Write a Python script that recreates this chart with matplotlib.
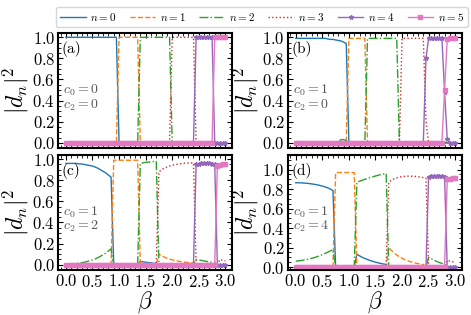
import matplotlib
matplotlib.use("Agg")
import matplotlib.pyplot as plt
import numpy as np
from matplotlib.ticker import AutoMinorLocator, MultipleLocator

plt.rcParams["font.family"] = "serif"
plt.rcParams["font.serif"] = ["cmr10", "DejaVu Serif"]
plt.rcParams["mathtext.fontset"] = "cm"
plt.rcParams["axes.formatter.use_mathtext"] = True

# beta sample grid (step 0.05)
BETA = np.round(np.arange(61) * 0.05, 2)

# ---- panel (a): c0 = 0, c2 = 0
A_N0 = [1.0] * 20 + [0.0] * 41
A_N1 = [0.0] * 20 + [1.0] * 8 + [0.0] * 33
A_N2 = [0.0] * 28 + [1.0] * 12 + [0.0] * 21
A_N3 = [0.0] * 40 + [1.0] * 9 + [0.0] * 12
A_N4 = [0.0] * 49 + [1.0] * 7 + [0.0] * 5
A_N5 = [0.0] * 56 + [1.0] * 5

# ---- panel (b): c0 = 1, c2 = 0
B_N0 = [0.99] * 11 + [0.99, 0.985, 0.98, 0.98, 0.975, 0.97, 0.965, 0.955, 0.94] + [0.0] * 41
B_N1 = [0.0] * 20 + [0.99] * 7 + [0.0] * 34
B_N2 = [0.0] * 16 + [0.01, 0.03, 0.03, 0.02] + [0.0] * 7 + [0.99] * 12 + [0.0] * 22
B_N3 = [0.0] * 40 + [0.99] * 9 + [0.2, 0.0] + [0.0] * 10
B_N4 = [0.0] * 49 + [0.8] + [0.99] * 6 + [0.48, 0.04] + [0.0] * 3
B_N5 = [0.0] * 56 + [0.5] + [0.98, 0.99, 0.99, 0.99]

# ---- panel (c): c0 = 1, c2 = 2
C_N0 = ([0.96] * 5
        + [0.955, 0.955, 0.95, 0.945, 0.94, 0.935, 0.925, 0.915, 0.9, 0.885, 0.87, 0.85, 0.83]
        + [0.0] * 10 + [0.03, 0.027, 0.024, 0.02, 0.017, 0.014, 0.012] + [0.0] * 26)
C_N1 = ([0.0] * 18 + [0.99] * 10 + [0.0] * 7
        + [0.1, 0.085, 0.072, 0.062, 0.053, 0.046, 0.04, 0.035, 0.03, 0.026, 0.023, 0.02, 0.018, 0.016]
        + [0.0] * 12)
C_N2 = ([0.005, 0.006, 0.008, 0.01, 0.012, 0.015, 0.019, 0.024, 0.03, 0.037, 0.045, 0.055,
         0.066, 0.08, 0.095, 0.11, 0.13, 0.15]
        + [0.0] * 10 + [0.96, 0.965, 0.97, 0.972, 0.975, 0.978, 0.98] + [0.0] * 14
        + [0.05, 0.045, 0.04, 0.035, 0.03, 0.027, 0.024, 0.02] + [0.0] * 4)
C_N3 = ([0.0] * 35
        + [0.88, 0.9, 0.915, 0.925, 0.935, 0.942, 0.948, 0.953, 0.957, 0.96, 0.962, 0.964, 0.965, 0.965]
        + [0.0] * 9 + [0.05, 0.04, 0.035])
C_N4 = [0.0] * 49 + [0.95, 0.955, 0.96, 0.965, 0.965, 0.96, 0.955, 0.95] + [0.0] * 4
C_N5 = [0.0] * 57 + [0.94, 0.945, 0.95, 0.95]

# ---- panel (d): c0 = 1, c2 = 4
D_N0 = ([0.865, 0.865, 0.864, 0.862, 0.86, 0.857, 0.853, 0.849, 0.844, 0.838, 0.831, 0.823,
         0.813, 0.8, 0.785]
        + [0.0] * 8
        + [0.13, 0.115, 0.1, 0.088, 0.077, 0.067, 0.058, 0.05, 0.043, 0.037, 0.031, 0.026]
        + [0.0] * 26)
D_N1 = ([0.0] * 15 + [0.965, 0.97, 0.97, 0.97, 0.97, 0.97, 0.97, 0.97] + [0.0] * 12
        + [0.2, 0.17, 0.145, 0.123, 0.105, 0.09, 0.077, 0.066, 0.056, 0.048, 0.041, 0.035, 0.03, 0.026]
        + [0.0] * 12)
D_N2 = ([0.06, 0.063, 0.067, 0.071, 0.076, 0.082, 0.089, 0.097, 0.106, 0.116, 0.127, 0.139,
         0.152, 0.166, 0.18]
        + [0.0] * 8
        + [0.87, 0.88, 0.89, 0.9, 0.91, 0.918, 0.926, 0.934, 0.942, 0.948, 0.954, 0.96]
        + [0.0] * 15 + [0.1, 0.085, 0.07, 0.058, 0.047, 0.037, 0.028] + [0.0] * 4)
D_N3 = ([0.0] * 35
        + [0.87, 0.89, 0.905, 0.915, 0.923, 0.928, 0.931, 0.933, 0.933, 0.932, 0.93, 0.927,
           0.923, 0.918, 0.912]
        + [0.0] * 7 + [0.07, 0.06, 0.055, 0.05])
D_N4 = [0.0] * 50 + [0.925, 0.93, 0.932, 0.933, 0.932, 0.93, 0.925] + [0.0] * 4
D_N5 = [0.0] * 57 + [0.9, 0.905, 0.91, 0.912]

PANELS = [
    ("(a)", "$c_0=0$\n$c_2=0$", [A_N0, A_N1, A_N2, A_N3, A_N4, A_N5]),
    ("(b)", "$c_0=1$\n$c_2=0$", [B_N0, B_N1, B_N2, B_N3, B_N4, B_N5]),
    ("(c)", "$c_0=1$\n$c_2=2$", [C_N0, C_N1, C_N2, C_N3, C_N4, C_N5]),
    ("(d)", "$c_0=1$\n$c_2=4$", [D_N0, D_N1, D_N2, D_N3, D_N4, D_N5]),
]
YLIMS = [(-0.05, 1.04), (-0.05, 1.04), (-0.05, 1.04), (-0.03, 1.15)]

STYLES = [
    dict(color="#1f77b4", ls="-"),
    dict(color="#ff7f0e", ls="--"),
    dict(color="#2ca02c", ls="-."),
    dict(color="#d62728", ls=":"),
    dict(color="#9467bd", ls="-", marker="*", ms=3.2),
    dict(color="#e377c2", ls="-", marker="s", ms=2.4),
]

fig = plt.figure(figsize=(4.71, 3.15), dpi=100)
W, H = 0.369, 0.365
positions = [(0.123, 0.530), (0.611, 0.530), (0.123, 0.143), (0.611, 0.143)]

for k, (tag, ctext, series) in enumerate(PANELS):
    ax = fig.add_axes([positions[k][0], positions[k][1], W, H])
    for n, (vals, st) in enumerate(zip(series, STYLES)):
        ax.plot(BETA, vals, lw=1.0, label=f"$n={n}$", **st)
    ax.set_xlim(-0.15, 3.12)
    ax.set_ylim(*YLIMS[k])
    ax.xaxis.set_major_locator(MultipleLocator(0.5))
    ax.yaxis.set_major_locator(MultipleLocator(0.2))
    ax.xaxis.set_minor_locator(AutoMinorLocator())
    ax.yaxis.set_minor_locator(AutoMinorLocator())
    ax.tick_params(which="both", direction="in", top=True, right=True, labelsize=12, pad=2)
    ax.tick_params(which="major", length=3.5, width=0.8)
    ax.tick_params(which="minor", length=2, width=0.6)
    for sp in ax.spines.values():
        sp.set_linewidth(1.5)
    ax.set_ylabel(r"$|d_n|^2$", fontsize=17, labelpad=1)
    if k >= 2:
        ax.set_xlabel(r"$\beta$", fontsize=17, labelpad=0)
    else:
        ax.tick_params(labelbottom=False)
    ax.text(0.02, 0.93, tag, transform=ax.transAxes, ha="left", va="top", fontsize=11)
    ax.text(0.03, 0.44, ctext, transform=ax.transAxes, ha="left", va="center",
            fontsize=10, color="#555555", linespacing=0.95)
    if k == 0:
        handles, labels = ax.get_legend_handles_labels()

fig.legend(handles, labels, loc="upper center", bbox_to_anchor=(0.556, 0.995), ncol=6,
           fontsize=8, handlelength=2.3, handletextpad=0.4, columnspacing=1.2,
           borderpad=0.35, frameon=True)

fig.savefig("out.png", dpi=100)
